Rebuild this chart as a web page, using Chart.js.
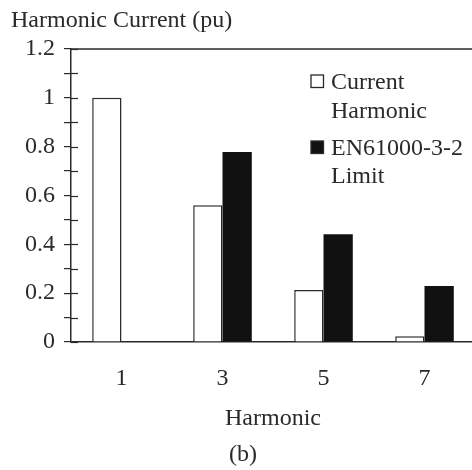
<!DOCTYPE html>
<html>
<head>
<meta charset="utf-8">
<script src="https://cdn.jsdelivr.net/npm/chart.js@4/dist/chart.umd.min.js"></script>
<style>
  html, body { margin: 0; padding: 0; background: #fff; overflow: hidden; }
  #wrap { width: 475px; height: 470px; }
</style>
</head>
<body>
<div id="wrap"><canvas id="c" width="475" height="470"></canvas></div>
<script>
// ---- data ----
const categories = ['1', '3', '5', '7'];
const currentHarmonic = [1.0, 0.56, 0.213, 0.024];
const en61000Limit = [null, 0.778, 0.441, 0.229];
const seriesNames = [['Current', 'Harmonic'], ['EN61000-3-2', 'Limit']];
const yTitle = 'Harmonic Current (pu)';
const xTitle = 'Harmonic';
const caption = '(b)';
const yMin = 0, yMax = 1.2, yStep = 0.1;

const FONT = "'Liberation Serif', 'Times New Roman', serif";
const INK = '#2a2a2a';
const FS = 24;

const frame = {
  id: 'frame',
  afterDraw(chart) {
    const ctx = chart.ctx;
    const a = chart.chartArea;
    const ys = chart.scales.y;
    ctx.save();
    ctx.strokeStyle = INK;
    ctx.lineWidth = 1.4;
    // top border
    ctx.beginPath();
    ctx.moveTo(a.left, a.top);
    ctx.lineTo(a.right, a.top);
    ctx.stroke();
    // inner part of y ticks (ticks cross the axis)
    ctx.lineWidth = 1.2;
    ys.ticks.forEach((t, i) => {
      const y = Math.round(ys.getPixelForTick(i)) + 0.5;
      ctx.beginPath();
      ctx.moveTo(a.left, y);
      ctx.lineTo(a.left + 7, y);
      ctx.stroke();
    });
    // legend
    const lx = a.left + 240, tx = a.left + 260;
    const entries = [
      { fill: '#ffffff', boxTop: 75, lines: seriesNames[0], base: 89 },
      { fill: '#111111', boxTop: 141, lines: seriesNames[1], base: 154.5 }
    ];
    ctx.font = FS + 'px ' + FONT;
    ctx.textBaseline = 'alphabetic';
    ctx.textAlign = 'left';
    entries.forEach(e => {
      ctx.fillStyle = e.fill;
      ctx.fillRect(lx, e.boxTop, 12.5, 12.5);
      ctx.lineWidth = 1.3;
      ctx.strokeStyle = INK;
      ctx.strokeRect(lx, e.boxTop, 12.5, 12.5);
      ctx.fillStyle = INK;
      e.lines.forEach((s, k) => ctx.fillText(s, tx, e.base + k * 28.7));
    });
    ctx.restore();
  }
};

new Chart(document.getElementById('c'), {
  type: 'bar',
  data: {
    labels: categories,
    datasets: [
      {
        label: seriesNames[0].join(' '),
        data: currentHarmonic,
        backgroundColor: '#ffffff',
        borderColor: INK,
        borderWidth: 1.5,
        categoryPercentage: 0.58,
        barPercentage: 1.0
      },
      {
        label: seriesNames[1].join(' '),
        data: en61000Limit,
        backgroundColor: '#111111',
        borderColor: '#111111',
        borderWidth: 0,
        categoryPercentage: 0.58,
        barPercentage: 1.0
      }
    ]
  },
  options: {
    responsive: false,
    animation: false,
    layout: { padding: { left: 11, right: 0, top: 0, bottom: 0 } },
    plugins: {
      legend: { display: false },
      tooltip: { enabled: false },
      title: {
        display: true,
        text: yTitle,
        align: 'start',
        color: INK,
        font: { family: FONT, size: FS, weight: 'normal', lineHeight: 1.2 },
        padding: { top: 6, bottom: 14.2 }
      },
      subtitle: {
        display: true,
        text: caption,
        position: 'bottom',
        color: INK,
        font: { family: FONT, size: FS, weight: 'normal', lineHeight: 1.2 },
        padding: { top: 0, bottom: 0.6 }
      }
    },
    scales: {
      x: {
        offset: true,
        grid: { display: false, drawTicks: false },
        border: { display: true, color: INK, width: 1.5 },
        ticks: { color: INK, padding: 22, font: { family: FONT, size: FS, lineHeight: 1.2 } },
        title: {
          display: true,
          text: xTitle,
          color: INK,
          font: { family: FONT, size: FS, lineHeight: 1.2 },
          padding: { top: 0, bottom: 7.8 }
        },
        afterFit(s) { s.height = 98.6; }
      },
      y: {
        min: yMin,
        max: yMax,
        grid: { display: true, drawOnChartArea: false, drawTicks: true, tickLength: 7, color: INK, lineWidth: 1.2 },
        border: { display: true, color: INK, width: 1.5 },
        ticks: {
          stepSize: yStep,
          autoSkip: false,
          padding: 9,
          color: INK,
          font: { family: FONT, size: FS, lineHeight: 1.2 },
          callback(v) {
            const k = Math.round(v * 10);
            return k % 2 === 0 ? String(k / 10) : '';
          }
        },
        afterFit(s) { s.width = 60; }
      }
    }
  },
  plugins: [frame]
});
</script>
</body>
</html>
